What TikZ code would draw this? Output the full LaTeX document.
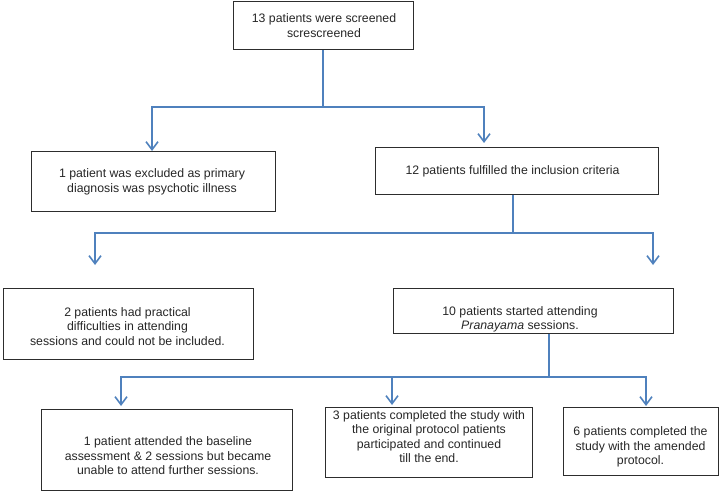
\documentclass[tikz,border=0pt]{standalone}
\usepackage{fontspec}
\setmainfont{Liberation Sans}
\usepackage{tikz}
\usetikzlibrary{arrows.meta}
\definecolor{flowblue}{RGB}{79,129,189}
\definecolor{framegray}{RGB}{45,45,45}
\newcommand{\Frame}[5]{\node[frame, minimum width=#4, minimum height=#5] (#1) at (#2,#3) {};}

\begin{document}
\begin{tikzpicture}[x=1pt, y=-1pt,
    frame/.style={draw=framegray, line width=1pt, inner sep=0pt},
    txt/.style={align=center, inner sep=0pt, font=\fontsize{12.3}{14.5}\selectfont, text=black!85},
    link/.style={draw=flowblue, line width=2pt},
    arrow/.style={link, -{Straight Barb[length=8pt, width=12pt, line width=1.6pt]}}]
    \useasboundingbox (0,0) rectangle (721,492);

    \Frame{screen}{323}{26}{180}{48}
    \Frame{excl}{153}{182}{244}{60}
    \Frame{incl}{516.5}{171.5}{283}{47}
    \Frame{pract}{128}{323.5}{250}{71}
    \Frame{pran}{533}{310.5}{280}{45}
    \Frame{drop}{166.5}{449.5}{251}{81}
    \Frame{orig}{428.5}{442}{207}{70}
    \Frame{amend}{640.5}{441}{155}{68}

    \node[txt] (screen-t) at (324,25.5) {13 patients were screened\\screscreened};
    \node[txt] (excl-t) at (152,182) {1 patient was excluded as primary\\diagnosis was psychotic illness};
    \node[txt] (incl-t) at (512.5,171) {12 patients fulfilled the inclusion criteria};
    \node[txt] (pract-t) at (127.5,326.5) {2 patients had practical\\difficulties in attending\\sessions and could not be included.};
    \node[txt] (pran-t) at (520,319.5) {10 patients started attending\\\textit{Pranayama} sessions.};
    \node[txt] (drop-t) at (168,456) {1 patient attended the baseline\\assessment \& 2 sessions but became\\unable to attend further sessions.};
    \node[txt] (orig-t) at (429,436.5) {3 patients completed the study with\\the original protocol patients\\participated and continued\\till the end.};
    \node[txt] (amend-t) at (640.5,447) {6 patients completed the\\study with the amended\\protocol.};

    \coordinate (j1) at (323,107);
    \coordinate (excl-in) at (152,151);
    \coordinate (incl-in) at (484,143);
    \draw[link] (screen.south) -- (j1);
    \draw[arrow] (j1) -| (excl-in);
    \draw[arrow] (j1) -| (incl-in);

    \coordinate (j2) at (513,233);
    \coordinate (pract-in) at (95,265);
    \coordinate (pran-in) at (653,265);
    \draw[link] (incl.south -| j2) -- (j2);
    \draw[arrow] (j2) -| (pract-in);
    \draw[arrow] (j2) -| (pran-in);

    \coordinate (j3) at (549,377);
    \coordinate (drop-in) at (121,406);
    \coordinate (orig-in) at (392,405);
    \coordinate (amend-in) at (646,406);
    \draw[link] (pran.south -| j3) -- (j3);
    \draw[arrow] (j3) -| (drop-in);
    \draw[arrow] (j3) -| (orig-in);
    \draw[arrow] (j3) -| (amend-in);

\end{tikzpicture}
\end{document}
